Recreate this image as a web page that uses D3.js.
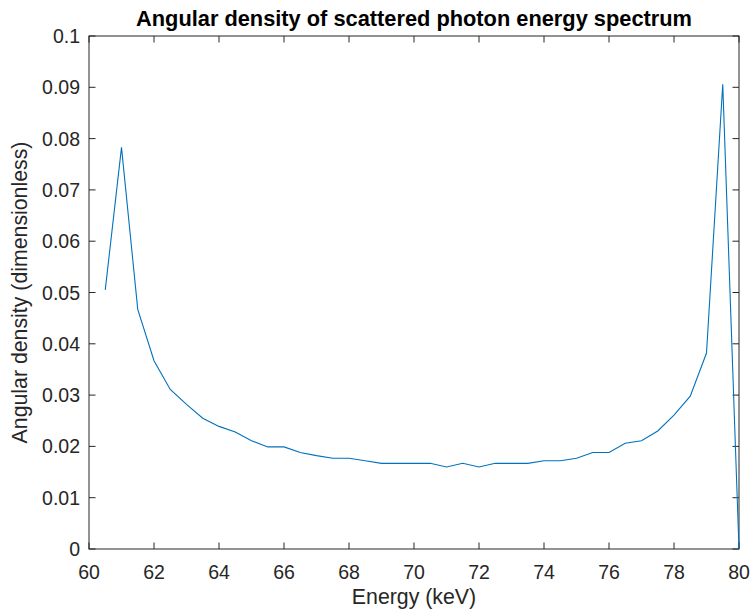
<html lang="en">
<head>
  <meta charset="UTF-8">
  <title>Angular density</title>
  <script src="https://d3js.org/d3.v7.min.js"></script>
  <style>
    body { margin: 0; background: white; }
    text { font-family: "Liberation Sans", Arial, sans-serif; fill: #262626; }
  </style>
</head>
<body>
  <svg class="chart" width="751" height="614"></svg>
  <script>
    // energies in keV, one sample every 0.5 keV
    const energy = [60.5, 61, 61.5, 62, 62.5, 63, 63.5, 64, 64.5, 65, 65.5, 66, 66.5, 67, 67.5,
      68, 68.5, 69, 69.5, 70, 70.5, 71, 71.5, 72, 72.5, 73, 73.5, 74, 74.5, 75, 75.5, 76,
      76.5, 77, 77.5, 78, 78.5, 79, 79.5, 80];
    const density = [0.0505, 0.0783, 0.0467, 0.0367, 0.0311, 0.0282, 0.0255, 0.0239, 0.0228, 0.0211,
      0.0199, 0.0199, 0.0188, 0.0182, 0.0177, 0.0177, 0.0172, 0.0167, 0.0167, 0.0167, 0.0167,
      0.0160, 0.0167, 0.0160, 0.0167, 0.0167, 0.0167, 0.0172, 0.0172, 0.0177, 0.0188, 0.0188,
      0.0206, 0.0211, 0.0230, 0.0261, 0.0298, 0.0382, 0.0906, 0.0];
    const xTicks = [60, 62, 64, 66, 68, 70, 72, 74, 76, 78, 80];
    const yTicks = [0, 0.01, 0.02, 0.03, 0.04, 0.05, 0.06, 0.07, 0.08, 0.09, 0.1];

    const svg = d3.select('svg.chart');
    const mLeft = 89, mRight = 739, mTop = 36, mBottom = 549;
    const x = d3.scaleLinear().domain([60, 80]).range([mLeft, mRight]);
    const y = d3.scaleLinear().domain([0, 0.1]).range([mBottom, mTop]);
    const axisColor = '#262626';

    // box
    svg.append('rect')
      .attr('x', mLeft).attr('y', mTop)
      .attr('width', mRight - mLeft).attr('height', mBottom - mTop)
      .style('fill', 'none').style('stroke', axisColor).style('stroke-width', 1);

    // ticks inside, on all four sides
    const tickLen = 6.5;
    xTicks.forEach(t => {
      svg.append('line').attr('x1', x(t)).attr('x2', x(t)).attr('y1', mBottom).attr('y2', mBottom - tickLen)
        .style('stroke', axisColor);
      svg.append('line').attr('x1', x(t)).attr('x2', x(t)).attr('y1', mTop).attr('y2', mTop + tickLen)
        .style('stroke', axisColor);
      svg.append('text').attr('x', x(t)).attr('y', mBottom + 30)
        .attr('text-anchor', 'middle').style('font-size', '19.5px').text(t);
    });
    yTicks.forEach(t => {
      svg.append('line').attr('x1', mLeft).attr('x2', mLeft + tickLen).attr('y1', y(t)).attr('y2', y(t))
        .style('stroke', axisColor);
      svg.append('line').attr('x1', mRight).attr('x2', mRight - tickLen).attr('y1', y(t)).attr('y2', y(t))
        .style('stroke', axisColor);
      svg.append('text').attr('x', mLeft - 9).attr('y', y(t) + 7)
        .attr('text-anchor', 'end').style('font-size', '19.5px').text(t);
    });

    const line = d3.line().x((d, i) => x(energy[i])).y(d => y(d));
    svg.append('path')
      .datum(density)
      .attr('d', line)
      .style('fill', 'none')
      .style('stroke', '#0072BD')
      .style('stroke-width', 1.1);

    svg.append('text').attr('x', (mLeft + mRight) / 2).attr('y', 26)
      .attr('text-anchor', 'middle').style('font-size', '21.8px').style('font-weight', 'bold')
      .style('fill', 'black')
      .text('Angular density of scattered photon energy spectrum');

    svg.append('text').attr('x', (mLeft + mRight) / 2).attr('y', 604)
      .attr('text-anchor', 'middle').style('font-size', '21.3px')
      .text('Energy (keV)');

    svg.append('text').attr('transform', 'translate(27,' + ((mTop + mBottom) / 2) + ') rotate(-90)')
      .attr('text-anchor', 'middle').style('font-size', '21.3px')
      .text('Angular density (dimensionless)');
  </script>
</body>
</html>
